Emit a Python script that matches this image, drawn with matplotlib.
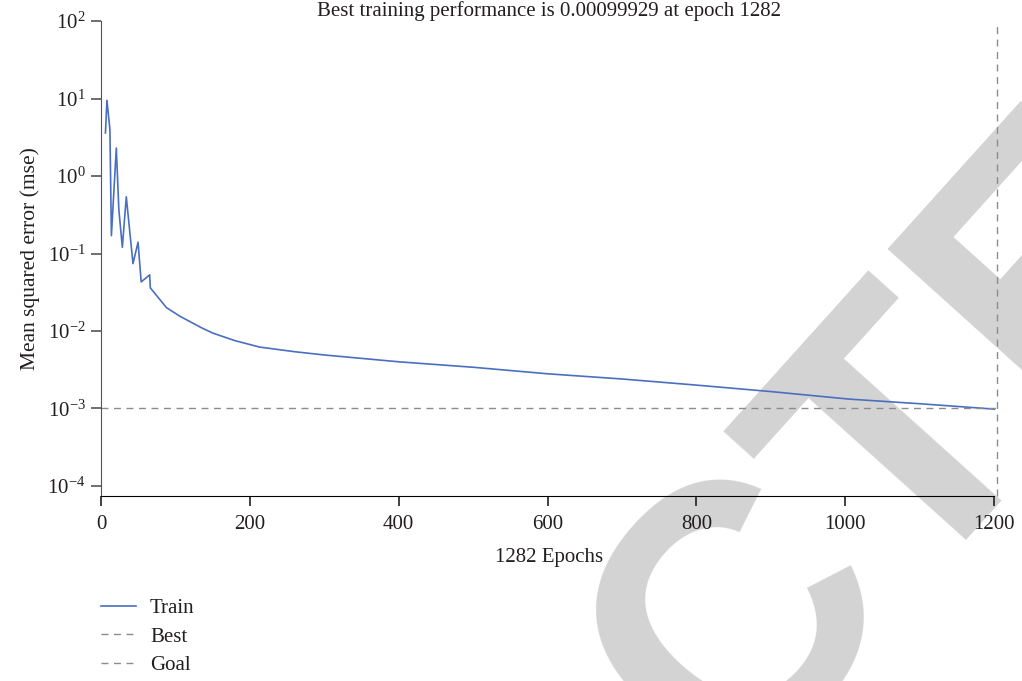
import numpy as np
import matplotlib.pyplot as plt
import matplotlib as mpl
from matplotlib.ticker import LogLocator, NullLocator, LogFormatterSciNotation

mpl.rcParams.update({
    'font.family': 'serif', 'font.serif': ['Liberation Serif', 'DejaVu Serif'],
    'mathtext.fontset': 'stix', 'font.size': 15,
    'text.color': '#231f20', 'axes.labelcolor': '#231f20',
    'xtick.color': '#231f20', 'ytick.color': '#231f20',
})

# Trainingsverlauf
epochen = [6, 8, 12, 14, 20.6, 24, 28.7, 34, 43, 49.8, 54, 65.4, 66.3, 88, 106,
           135, 150, 180, 213, 260, 300, 400, 500, 600, 700, 800, 900, 1005, 1100, 1200]
mse = [3.6, 9.5, 4.0, 0.17, 2.3, 0.37, 0.12, 0.54, 0.074, 0.14, 0.043, 0.053,
       0.036, 0.020, 0.0155, 0.011, 0.0094, 0.0075, 0.0062, 0.0054, 0.0049,
       0.0040, 0.0034, 0.0028, 0.0024, 0.0020, 0.00165, 0.00132, 0.00115, 0.00098]
best_epoch = 1204
goal = 1e-3
x_ticks = [0, 200, 400, 600, 800, 1000, 1200]

titel = 'Best training performance is 0.00099929 at epoch 1282'

fig = plt.figure(figsize=(10.22, 6.81), dpi=100)
ax = fig.add_axes([0.0988, 0.2717, 0.8777, 0.6973])
ax.patch.set_alpha(0)

# Wasserzeichen hinter den Achsen
fig.text(0.552, -0.20, 'RETRACTED', rotation=48, fontsize=265, color='#d3d3d3',
         family='Liberation Sans', fontweight='bold', ha='center', va='center',
         rotation_mode='anchor', zorder=-1)

ax.plot(epochen, mse, color='#4a6fc1', linewidth=1.2, label='Train')
ax.axvline(best_epoch, color='#8c8c8c', linestyle=(0, (5, 4)), linewidth=1.0,
           label='Best', clip_on=False)
ax.axhline(goal, color='#8c8c8c', linestyle=(0, (5, 4)), linewidth=1.0, label='Goal')

ax.set_yscale('log')
ax.set_ylim(10 ** -4.13, 100)
ax.set_xlim(0, 1205)
ax.yaxis.set_major_locator(LogLocator(base=10, numticks=10))
ax.yaxis.set_minor_locator(NullLocator())
ax.yaxis.set_major_formatter(LogFormatterSciNotation())
ax.set_xticks(x_ticks)

for s in ['top', 'right']:
    ax.spines[s].set_visible(False)
ax.spines['bottom'].set_bounds(0, 1200)
ax.spines['left'].set_color('#555555')
ax.tick_params(axis='both', direction='out', length=7, width=1.2, labelsize=15)
ax.tick_params(axis='x', pad=7)
ax.tick_params(axis='y', color='#555555', pad=4)

ax.set_title(titel, fontsize=15, pad=3)
ax.set_xlabel('1282 Epochs', fontsize=15, labelpad=10)
ax.set_ylabel('Mean squared error (mse)', fontsize=15.5, labelpad=5)

fig.legend(loc='upper left', bbox_to_anchor=(0.0988, 0.121), frameon=False,
           borderpad=0, borderaxespad=0, handlelength=1.7, handletextpad=0.65,
           labelspacing=0.42, fontsize=15)

fig.savefig('out.png', dpi=100)
